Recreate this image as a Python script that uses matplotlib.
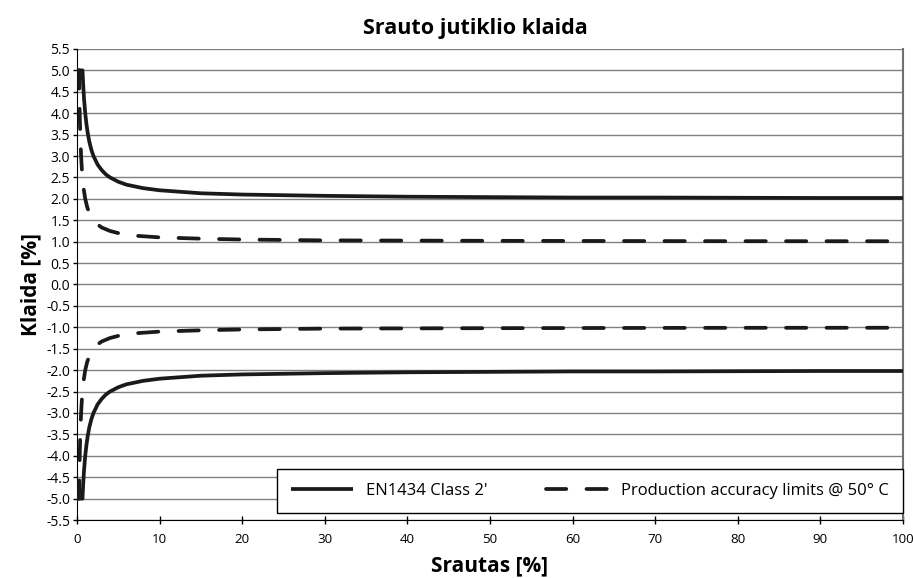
import numpy as np
import matplotlib
matplotlib.use('Agg')
import matplotlib.pyplot as plt

plt.rcParams['font.family'] = ['Open Sans', 'DejaVu Sans']

# EN1434 Class 2' riba (teigiama puse, neigiama - veidrodine)
class2_x = [0, 0.67, 0.75, 0.85, 1.0, 1.15, 1.3, 1.5, 1.75, 2.0, 2.5, 3.0, 3.5, 4.0,
            5.0, 6.0, 8.0, 10, 15, 20, 30, 40, 50, 60, 70, 80, 90, 100]
class2_y = [5.0, 5.0, 4.67, 4.35, 4.0, 3.74, 3.54, 3.33, 3.14, 3.0, 2.8, 2.67, 2.57, 2.5,
            2.4, 2.33, 2.25, 2.2, 2.13, 2.1, 2.07, 2.05, 2.04, 2.03, 2.03, 2.025, 2.02, 2.02]

# gamybos tikslumo ribos @ 50 C
prod_x = [0, 0.25, 0.3, 0.35, 0.4, 0.5, 0.6, 0.7, 0.8, 1.0, 1.25, 1.5, 2.0, 2.5, 3.0,
          4.0, 5.0, 7.0, 10, 15, 20, 30, 40, 50, 60, 70, 80, 90, 100]
prod_y = [5.0, 5.0, 4.33, 3.86, 3.5, 3.0, 2.67, 2.43, 2.25, 2.0, 1.8, 1.67, 1.5, 1.4, 1.33,
          1.25, 1.2, 1.14, 1.1, 1.07, 1.05, 1.03, 1.025, 1.02, 1.017, 1.014, 1.012, 1.011, 1.01]

yticks = np.arange(-5.5, 5.51, 0.5)
xticks = [0, 10, 20, 30, 40, 50, 60, 70, 80, 90, 100]

fig = plt.figure(figsize=(9.13, 5.78), dpi=100)
ax = fig.add_axes([0.0843, 0.1003, 0.9047, 0.815])

for y in yticks:
    ax.axhline(y, color='#808080', lw=1.0, zorder=1)

c2y = np.array(class2_y)
py = np.array(prod_y)
ax.plot(class2_x, c2y, color='#1a1a1a', lw=2.7, solid_capstyle='butt', zorder=3,
        label="EN1434 Class 2'")
ax.plot(class2_x, -c2y, color='#1a1a1a', lw=2.7, solid_capstyle='butt', zorder=3)
ax.plot(prod_x, py, color='#1a1a1a', lw=2.7, dashes=(5.4, 5.4), dash_capstyle='round',
        zorder=3, label='Production accuracy limits @ 50° C')
ax.plot(prod_x, -py, color='#1a1a1a', lw=2.7, dashes=(5.4, 5.4), dash_capstyle='round',
        zorder=3)

ax.set_xlim(0, 100)
ax.set_ylim(-5.5, 5.5)
ax.set_xticks(xticks)
ax.set_yticks(yticks)
ax.set_yticklabels(['%.1f' % v for v in yticks])
ax.tick_params(axis='y', direction='out', length=3, width=1, labelsize=10, pad=2)
ax.tick_params(axis='x', direction='inout', length=6, width=1, labelsize=9.6, pad=6)

ax.spines['top'].set_visible(False)
ax.spines['right'].set_color('#707070')
ax.spines['right'].set_linewidth(1.5)
ax.spines['left'].set_color('black')
ax.spines['bottom'].set_color('black')

ax.set_title('Srauto jutiklio klaida', fontsize=15.5, fontweight='bold', pad=11, x=0.482)
ax.set_xlabel('Srautas [%]', fontsize=15, fontweight='bold', labelpad=7)
ax.set_ylabel('Klaida [%]', fontsize=15, fontweight='bold', labelpad=3)

leg = ax.legend(loc='lower right', bbox_to_anchor=(1.0, 0.015), borderaxespad=0,
                ncol=2, frameon=True, fancybox=False, edgecolor='black', framealpha=1,
                fontsize=12, handlelength=3.7, columnspacing=3.5, borderpad=0.85,
                handletextpad=0.8)
leg.get_frame().set_linewidth(1.0)
leg.set_zorder(5)

fig.savefig('out.png', dpi=100)
